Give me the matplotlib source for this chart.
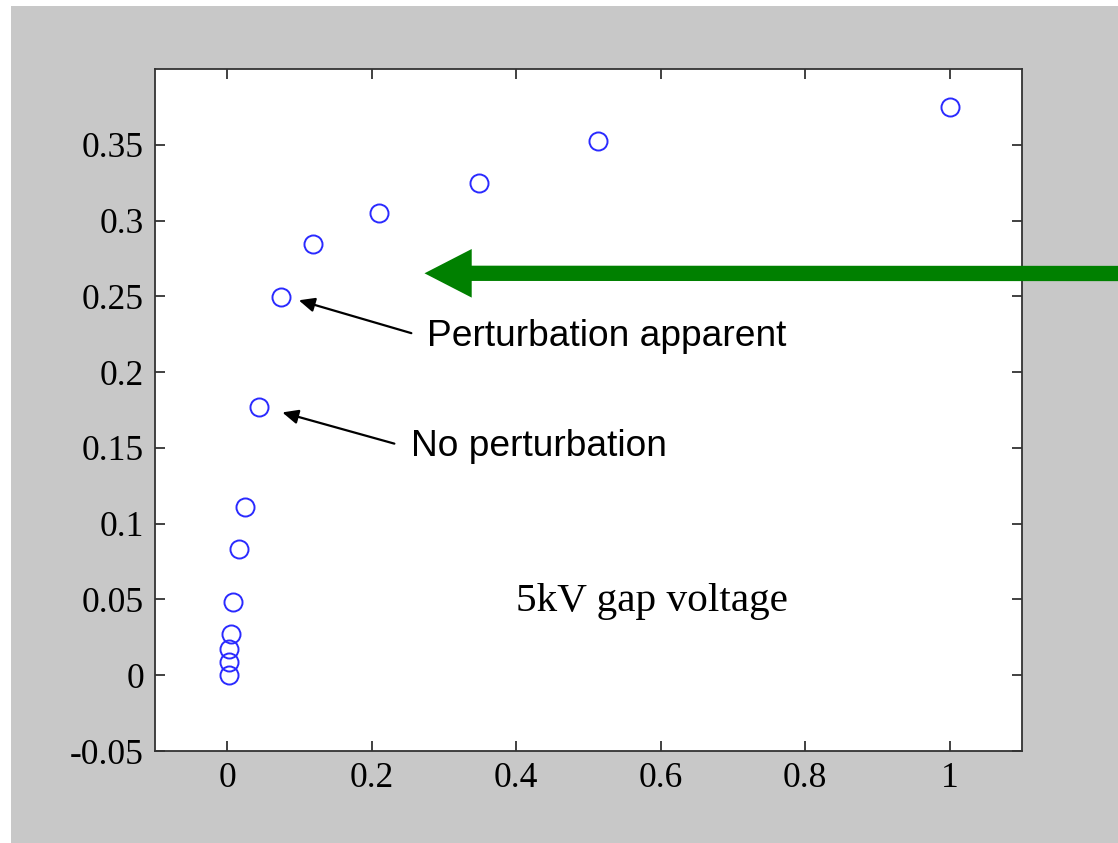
#!/usr/bin/env python

# Imports.
import matplotlib
matplotlib.use('Agg')
import matplotlib.pyplot as plt
import matplotlib.patches as mpatches

# Data.
x_values = [1.0, 0.5125, 0.349, 0.2105, 0.119, 0.0744, 0.0443, 0.0249,
            0.0166, 0.0083, 0.0051, 0.0028, 0.0028, 0.0028]
y_values = [0.3751, 0.3527, 0.3251, 0.3053, 0.2844, 0.2498, 0.1772, 0.1111,
            0.0832, 0.0482, 0.0271, 0.0172, 0.0086, 0.0]

x_ticks = [0, 0.2, 0.4, 0.6, 0.8, 1]
x_tick_labels = ['0', '0.2', '0.4', '0.6', '0.8', '1']
y_ticks = [-0.05, 0, 0.05, 0.1, 0.15, 0.2, 0.25, 0.3, 0.35]
y_tick_labels = ['-0.05', '0', '0.05', '0.1', '0.15', '0.2', '0.25', '0.3',
                 '0.35']

title_text = '5kV gap voltage'
label_apparent = 'Perturbation apparent'
label_none = 'No perturbation'


def addBackground(fig):
    """ Draw the grey frame behind the axes, leaving a thin white border. """

    rect = mpatches.Rectangle((11 / 1118., 0), 1 - 11 / 1118., 1 - 6 / 843.,
                              transform=fig.transFigure,
                              facecolor='#c8c8c8', edgecolor='none',
                              zorder=-10)
    fig.patches.append(rect)


def blackArrow(ax, tip, tail):
    """ Thin black arrow pointing at a data point. """

    ax.annotate('', xy=tip, xytext=tail,
                arrowprops=dict(arrowstyle='-|>,head_length=9.5,head_width=4.3',
                                mutation_scale=1, color='black', lw=1.6,
                                shrinkA=0, shrinkB=0))


plt.rcParams['axes.unicode_minus'] = False

fig = plt.figure(figsize=(11.18, 8.43), dpi=100, facecolor='white')
addBackground(fig)

ax = fig.add_axes([155 / 1118., 1 - 751 / 843., 867 / 1118., 682 / 843.])
ax.set_facecolor('white')

ax.plot(x_values, y_values, linestyle='none', marker='o', markersize=13,
        markerfacecolor='none', markeredgecolor='#2a2aff',
        markeredgewidth=1.4)

ax.set_xlim(-0.1, 1.1)
ax.set_ylim(-0.05, 0.4)
ax.set_xticks(x_ticks)
ax.set_xticklabels(x_tick_labels)
ax.set_yticks(y_ticks)
ax.set_yticklabels(y_tick_labels)

for spine in ax.spines.values():
    spine.set_linewidth(1.3)
    spine.set_color('#333333')

ax.tick_params(direction='in', length=7, width=1.3, color='#333333',
               top=True, right=True, pad=8)
for lab in ax.get_xticklabels() + ax.get_yticklabels():
    lab.set_fontfamily('Liberation Serif')
    lab.set_fontsize(25.5)

ax.text(0.399, 0.0487, title_text, family='Liberation Serif', fontsize=29.7,
        va='center', ha='left')

ax.text(0.277, 0.2237, label_apparent, family='Liberation Sans',
        fontsize=26.7, va='center', ha='left')
ax.text(0.2548, 0.1507, label_none, family='Liberation Sans',
        fontsize=26.7, va='center', ha='left')

blackArrow(ax, (0.099, 0.2474), (0.2548, 0.2257))
blackArrow(ax, (0.0762, 0.1734), (0.2313, 0.1528))

# Big green arrow coming in from the right edge of the figure.
ax.annotate('', xy=(0.273, 0.2652), xycoords='data',
            xytext=(1118, 843 - 273.5), textcoords='figure pixels',
            annotation_clip=False,
            arrowprops=dict(arrowstyle='simple,head_length=34,head_width=35,'
                                       'tail_width=11',
                            mutation_scale=1, facecolor='#008000',
                            edgecolor='none', shrinkA=0, shrinkB=0))

plt.savefig('out.png', dpi=100, facecolor='white')
